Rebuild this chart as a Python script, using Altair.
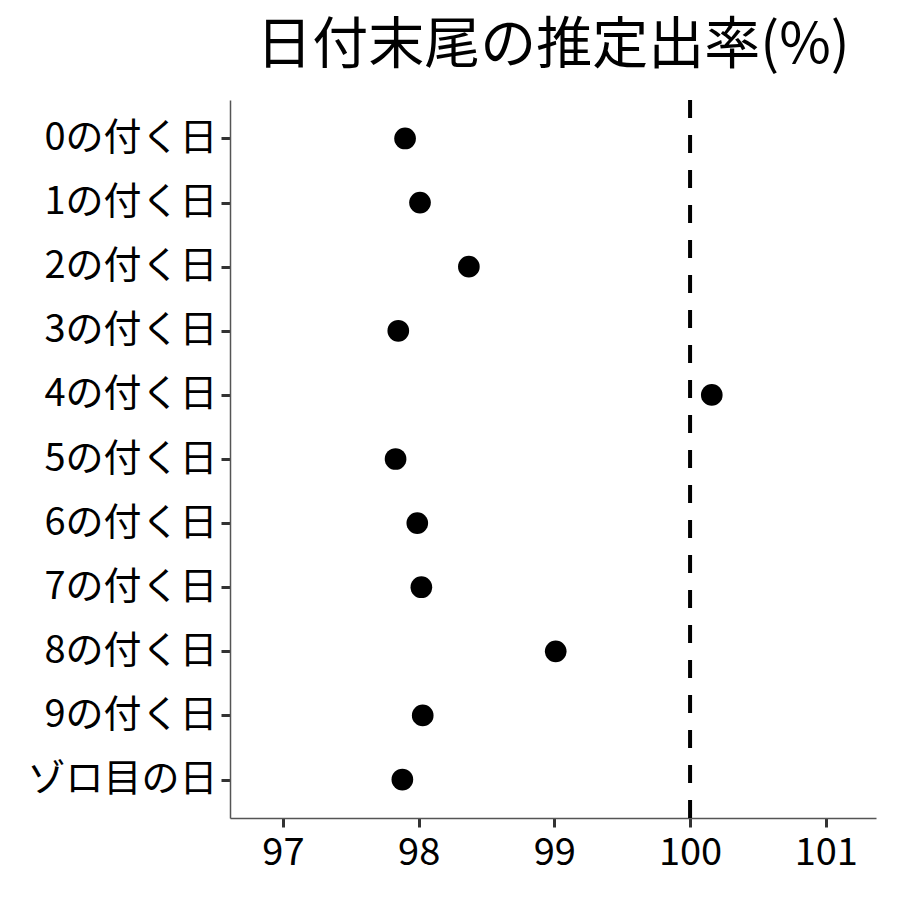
import altair as alt
import pandas as pd

categories = ["0の付く日", "1の付く日", "2の付く日", "3の付く日", "4の付く日",
              "5の付く日", "6の付く日", "7の付く日", "8の付く日", "9の付く日", "ゾロ目の日"]
rates = [97.90, 98.01, 98.37, 97.85, 100.16, 97.83, 97.99, 98.02, 99.01, 98.03, 97.88]
ref_value = [100]
x_ticks = [97, 98, 99, 100, 101]

FONT = "Noto Sans CJK JP"

df = pd.DataFrame({"cat": categories, "rate": rates})
ref = pd.DataFrame({"x": ref_value})

xscale = alt.Scale(domain=[96.61, 101.37], nice=False, zero=False)

points = alt.Chart(df).mark_point(filled=True, color="black", opacity=1, size=470).encode(
    x=alt.X("rate:Q", scale=xscale,
            axis=alt.Axis(values=x_ticks, title=None, grid=False, format="d", labelPadding=7)),
    y=alt.Y("cat:N", sort=categories,
            scale=alt.Scale(type="point", padding=0.6),
            axis=alt.Axis(title=None, grid=False, labelPadding=4)),
)

rule = alt.Chart(ref).mark_rule(color="black", strokeWidth=4, strokeDash=[18, 17]).encode(
    x=alt.X("x:Q", scale=xscale)
)

chart = (rule + points).properties(
    width=646, height=718,
    title=alt.TitleParams("日付末尾の推定出率(%)", font=FONT, fontSize=56,
                          fontWeight="normal", color="black", anchor="middle", offset=23),
    autosize=alt.AutoSizeParams(type="none"),
    padding={"left": 222, "top": 92, "right": 16, "bottom": 74},
).configure_view(stroke=None).configure_axis(
    labelFont=FONT, labelFontSize=38, labelColor="black", labelLimit=0,
    domainColor="#555555", domainWidth=1.5,
    tickColor="#333333", tickWidth=3, tickSize=9,
)

chart.save("out.html", embed_options={"renderer": "svg", "actions": False})
